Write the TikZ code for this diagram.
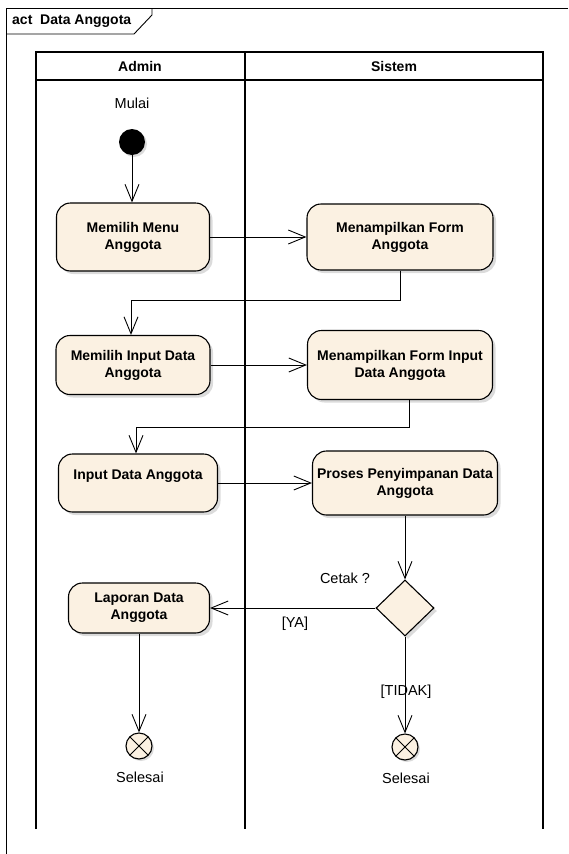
\documentclass[tikz,border=0pt]{standalone}
\usepackage{fontspec}
\setmainfont{Liberation Sans}
\usetikzlibrary{arrows.meta,shapes.geometric,shadows}
\definecolor{actfill}{RGB}{251,241,226}
\begin{document}
\begin{tikzpicture}[x=1pt,y=-1pt,
  every node/.style={font=\fontsize{14}{17}\selectfont},
  shadowed/.style={drop shadow={shadow xshift=3pt, shadow yshift=-3pt, fill=black!28}},
  action/.style={draw=black, line width=1.1pt, fill=actfill, rounded corners=14pt,
    align=center, font=\fontsize{14}{17}\selectfont\bfseries, inner sep=0pt, shadowed},
  decision/.style={draw=black, line width=1.1pt, fill=actfill, diamond, inner sep=0pt,
    minimum width=58pt, minimum height=56pt, shadowed},
  startnode/.style={circle, fill=black, minimum size=26pt, inner sep=0pt,
    drop shadow={shadow xshift=2pt, shadow yshift=-2pt, fill=black!28}},
  endnode/.style={circle, draw=black, line width=1.1pt, fill=actfill, minimum size=26pt, inner sep=0pt,
    drop shadow={shadow xshift=2pt, shadow yshift=-2pt, fill=black!28},
    path picture={\draw[line width=1pt] (path picture bounding box.north west) -- (path picture bounding box.south east)
      (path picture bounding box.north east) -- (path picture bounding box.south west);}},
  arr/.style={draw=black, line width=0.9pt, -{Straight Barb[length=17pt,width=14pt]}},
  lane/.style={draw=black, line width=1.4pt},
  frameline/.style={draw=black, line width=0.9pt},
  lbl/.style={font=\fontsize{14.5}{17}\selectfont, inner sep=0pt}
]
\useasboundingbox (0,0) rectangle (568,854);

% frame
\draw[frameline] (568,8) -- (6,8) -- (6,854);
\draw[frameline] (6,34) -- (134,34) -- (152,15) -- (152,8);
\node[anchor=west, inner sep=0pt, font=\fontsize{14}{17}\selectfont\bfseries] (title) at (12,21) {act\ \ Data Anggota};

% swimlanes
\draw[lane] (36,829) -- (36,52) -- (543,52) -- (543,829);
\draw[lane] (36,80) -- (543,80);
\draw[lane] (245,52) -- (245,829);
\node[font=\fontsize{14}{17}\selectfont\bfseries] (hadmin) at (140,66) {Admin};
\node[font=\fontsize{14}{17}\selectfont\bfseries] (hsistem) at (394,66) {Sistem};

% nodes
\node[startnode] (start) at (132,142) {};
\node[lbl] (mulai) at (132,103) {Mulai};

\node[action, minimum width=153pt, minimum height=68pt] (n1) at (133,237) {Memilih Menu\\Anggota};
\node[action, minimum width=186pt, minimum height=66pt] (n2) at (400,237) {Menampilkan Form\\Anggota};
\node[action, minimum width=154pt, minimum height=59pt] (n3) at (133,365) {Memilih Input Data\\Anggota};
\node[action, minimum width=185pt, minimum height=69pt] (n4) at (400,365) {Menampilkan Form Input\\Data Anggota};
\node[action, minimum width=159pt, minimum height=58pt] (n5) at (138,483) {Input Data Anggota\\\mbox{}};
\node[action, minimum width=185pt, minimum height=64pt] (n6) at (405,483) {Proses Penyimpanan Data\\Anggota};
\node[decision] (d) at (405,608) {};
\node[action, minimum width=141pt, minimum height=50pt] (n7) at (139,608) {Laporan Data\\Anggota};

\node[endnode] (f1) at (139,746) {};
\node[endnode] (f2) at (405,747) {};
\node[lbl] (s1) at (140,777) {Selesai};
\node[lbl] (s2) at (406,778) {Selesai};

% connectors
\coordinate (j1) at (131,300);
\coordinate (j2) at (136,427);
\draw[arr] (start) -- (start |- n1.north);
\draw[arr] (n1.east) -- (n2.west);
\draw[arr] (n2.south) |- (j1) -- (j1 |- n3.north);
\draw[arr] (n3.east) -- (n4.west);
\draw[arr] ([xshift=9pt]n4.south) |- (j2) -- (j2 |- n5.north);
\draw[arr] (n5.east) -- (n6.west);
\draw[arr] (n6.south) -- (d.north);
\draw[arr] (d.west) -- (n7.east);
\draw[arr] (d.south) -- (f2.north);
\draw[arr] (n7.south) -- (f1.north);

% labels
\node[lbl] (cetak) at (345,578) {Cetak ?};
\node[lbl] (ya) at (295,624) {[YA]};
\node[lbl] (tidak) at (406,692) {[TIDAK]};
\end{tikzpicture}
\end{document}
